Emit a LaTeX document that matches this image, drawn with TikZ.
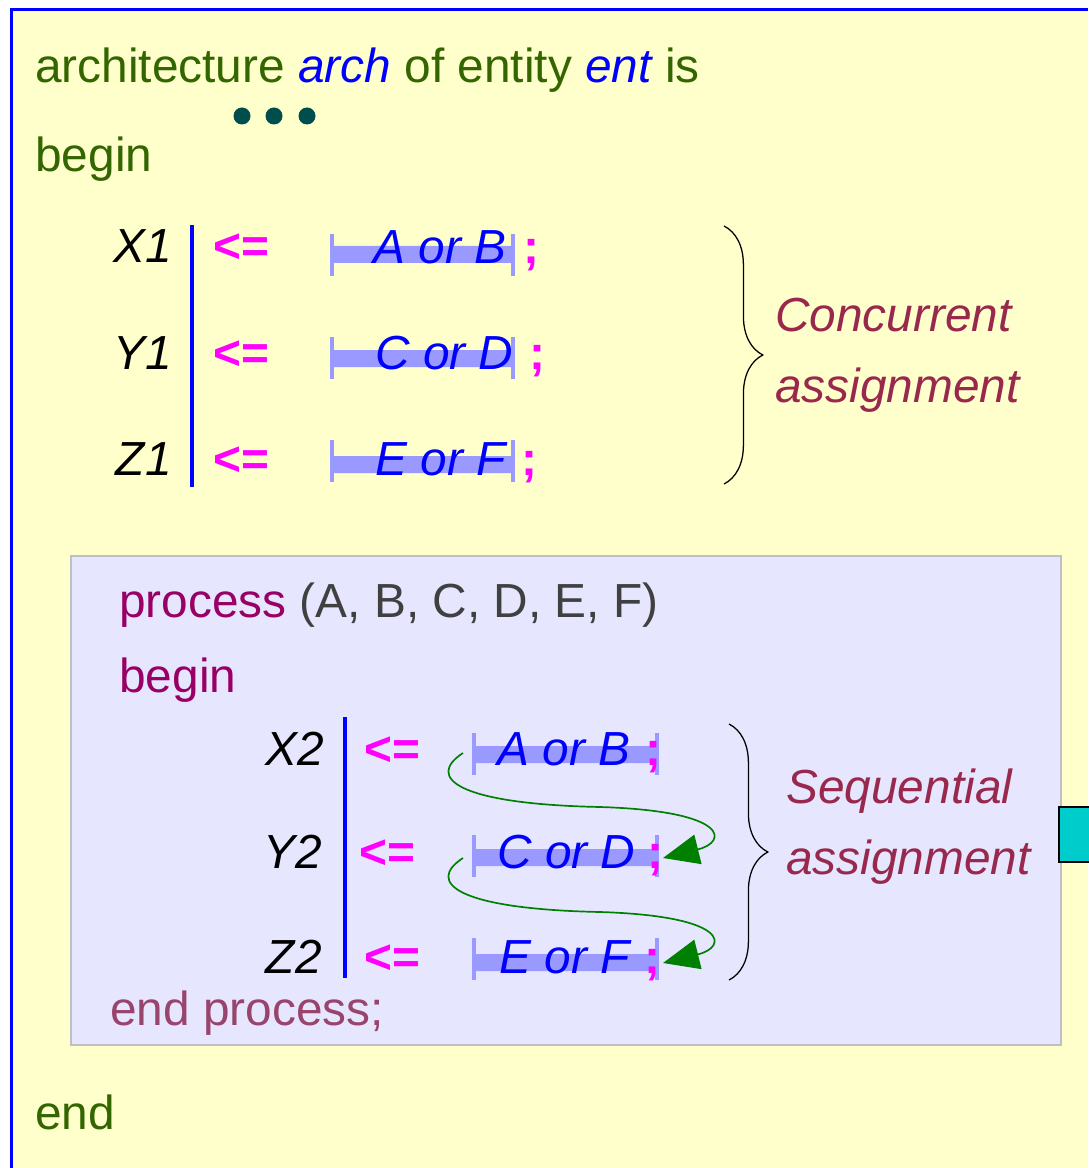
\documentclass[tikz,border=0pt]{standalone}
\usepackage{fontspec}
\setmainfont{Liberation Sans}
\usetikzlibrary{arrows.meta,decorations.pathreplacing}
\definecolor{slidebg}{RGB}{255,255,204}
\definecolor{codegreen}{RGB}{51,102,0}
\definecolor{dotteal}{RGB}{0,77,77}
\definecolor{hlblue}{RGB}{153,153,255}
\definecolor{opmagenta}{RGB}{255,0,255}
\definecolor{labelred}{RGB}{153,40,77}
\definecolor{procpurple}{RGB}{153,0,102}
\definecolor{listgray}{RGB}{64,64,64}
\definecolor{endproc}{RGB}{153,68,108}
\definecolor{procbg}{RGB}{230,230,255}
\definecolor{procframe}{RGB}{190,190,200}
\definecolor{flowgreen}{RGB}{0,128,0}
\definecolor{tealbox}{RGB}{0,204,204}

\begin{document}
\begin{tikzpicture}[x=0.025cm, y=-0.025cm,
    txt/.style={font=\fontsize{34}{40}\selectfont, inner sep=0pt, anchor=base west},
    sig/.style={txt, anchor=base east, font=\fontsize{34}{40}\selectfont\itshape},
    arrowop/.style={txt, text=opmagenta, font=\fontsize{34}{40}\selectfont\bfseries},
    expr/.style={txt, text=blue, font=\fontsize{34}{40}\selectfont\itshape},
    semi/.style={txt, text=opmagenta, font=\fontsize{34}{40}\selectfont\bfseries},
    kind/.style={txt, text=labelred, font=\fontsize{34}{40}\selectfont\itshape},
    hl/.style={fill=hlblue},
    hlend/.style={draw=hlblue, line width=3.5pt},
    rail/.style={draw=blue, line width=2.4pt},
    brace/.style={decorate, decoration={brace, amplitude=0.97cm}, line width=0.9pt},
    flow/.style={draw=flowgreen, line width=1.2pt, -{Triangle[length=0.9cm, width=0.75cm]}}]
    \useasboundingbox (0,0) rectangle (1088,1168);

    % Slide frame
    \fill[slidebg] (11.5,9.5) rectangle (1088,1168);
    \draw[blue, line width=2.5pt] (11.5,1168) -- (11.5,9.5) -- (1088,9.5);

    % Architecture header
    \node[txt, text=codegreen] (head) at (35,83)
        {architecture \textcolor{blue}{\itshape arch} of entity \textcolor{blue}{\itshape ent} is};
    \fill[dotteal] (242,116) circle (8.5) (274,116) circle (8.5) (307,116) circle (8.5);
    \node[txt, text=codegreen] (begin1) at (35,172) {begin};

    % Concurrent assignments
    \draw[rail] (192,225) -- (192,487);
    \node[sig] (x1) at (172,263) {X1};
    \node[sig] (y1) at (172,369) {Y1};
    \node[sig] (z1) at (172,475) {Z1};
    \node[arrowop] (op1) at (213,263) {<=};
    \node[arrowop] (op2) at (213,369) {<=};
    \node[arrowop] (op3) at (213,475) {<=};

    \fill[hl] (331,246) rectangle (514,263) (331,350) rectangle (514,367) (331,456) rectangle (514,473);
    \draw[hlend] (332,234) -- (332,276) (513,234) -- (513,276);
    \draw[hlend] (332,337) -- (332,379) (513,337) -- (513,379);
    \draw[hlend] (332,440) -- (332,482) (513,440) -- (513,482);
    \node[expr] (ab1) at (373,264) {A or B};
    \node[expr] (cd1) at (375,369) {C or D};
    \node[expr] (ef1) at (375,475) {E or F};
    \node[semi] (sc1) at (523,264) {;};
    \node[semi] (sc2) at (529,369) {;};
    \node[semi] (sc3) at (521,475) {;};

    \draw[brace] (724,226) -- (724,484);
    \node[kind] (conc) at (775,331) {Concurrent};
    \node[kind] (conc2) at (775,402) {assignment};

    % Process block
    \filldraw[fill=procbg, draw=procframe, line width=0.8pt] (71,556) rectangle (1061,1045);
    \node[txt, text=procpurple] (proc) at (119,617)
        {process \textcolor{listgray}{(A, B, C, D, E, F)}};
    \node[txt, text=procpurple] (begin2) at (119,692) {begin};

    \draw[rail] (345,717) -- (345,978);
    \node[sig] (x2) at (324,765) {X2};
    \node[sig] (y2) at (322,868) {Y2};
    \node[sig] (z2) at (322,973) {Z2};
    \node[arrowop] (op4) at (364,765) {<=};
    \node[arrowop] (op5) at (359,868) {<=};
    \node[arrowop] (op6) at (364,973) {<=};

    \fill[hl] (473,746) rectangle (658,763) (473,849) rectangle (658,866) (473,954) rectangle (658,971);
    \draw[hlend] (474,733) -- (474,775) (657,733) -- (657,775);
    \draw[hlend] (474,835) -- (474,877) (657,835) -- (657,877);
    \draw[hlend] (474,938) -- (474,980) (657,938) -- (657,980);
    \node[expr] (ab2) at (497,765) {A or B};
    \node[expr] (cd2) at (497,868) {C or D};
    \node[expr] (ef2) at (499,973) {E or F};
    \node[semi] (sc4) at (645,765) {;};
    \node[semi] (sc5) at (647,868) {;};
    \node[semi] (sc6) at (644,973) {;};

    % Order of the sequential statements
    \coordinate (s1) at (463,753);
    \coordinate (t1) at (663,858);
    \coordinate (s2) at (463,858);
    \coordinate (t2) at (663,963);
    \draw[flow] (s1) .. controls (426,777) and (455,804) .. (600,807)
        .. controls (730,811) and (728,842) .. (t1);
    \draw[flow] (s2) .. controls (426,882) and (455,909) .. (600,912)
        .. controls (730,916) and (728,947) .. (t2);

    \draw[brace] (729,724) -- (729,980);
    \node[kind] (seq) at (786,803) {Sequential};
    \node[kind] (seq2) at (786,874) {assignment};

    \node[txt, text=endproc] (endp) at (110,1025) {end process;};

    % Closing
    \node[txt, text=codegreen] (end1) at (35,1129) {end};
    \filldraw[fill=tealbox, draw=black, line width=0.8pt] (1059,807) rectangle (1095,862);
\end{tikzpicture}
\end{document}
